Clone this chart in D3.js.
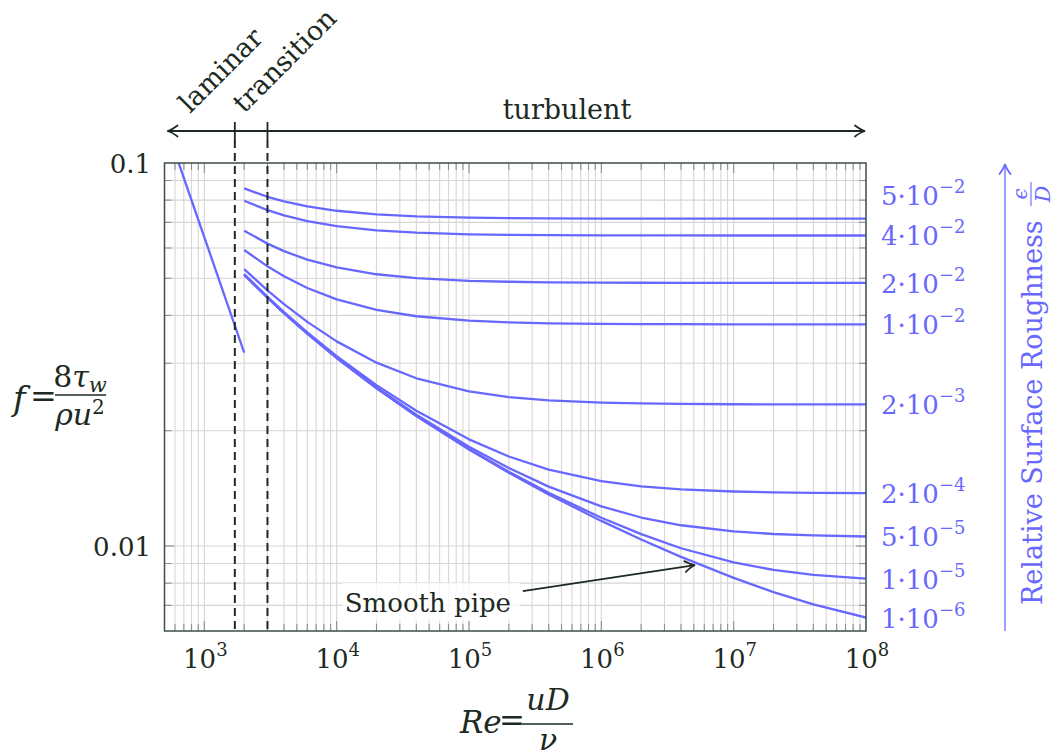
<!DOCTYPE html>
<html><head><meta charset="utf-8">
<script src="https://cdn.jsdelivr.net/npm/d3@7"></script>
<style>body{margin:0;background:#fff} text{font-family:"DejaVu Serif",serif}</style>
</head><body><svg id="c" width="1059" height="756"></svg>
<script>
// ---------- data ----------
const reTurb = [2e3, 3e3, 4e3, 6e3, 1e4, 2e4, 4e4, 1e5, 2e5, 4e5, 1e6, 2e6, 4e6, 1e7, 2e7, 4e7, 1e8];
const f_5e2 = [0.08584, 0.08162, 0.07938, 0.07704, 0.07504, 0.07344, 0.07256, 0.07200, 0.07179, 0.07168, 0.07161, 0.07158, 0.07156, 0.07155, 0.07155, 0.07155, 0.07155];
const f_4e2 = [0.07972, 0.07533, 0.07298, 0.07051, 0.06840, 0.06669, 0.06576, 0.06515, 0.06493, 0.06481, 0.06473, 0.06470, 0.06469, 0.06468, 0.06468, 0.06468, 0.06468];
const f_2e2 = [0.06658, 0.06159, 0.05886, 0.05593, 0.05336, 0.05123, 0.05004, 0.04926, 0.04897, 0.04882, 0.04872, 0.04868, 0.04866, 0.04865, 0.04864, 0.04864, 0.04864];
const f_1e2 = [0.05928, 0.05373, 0.05061, 0.04717, 0.04404, 0.04134, 0.03980, 0.03875, 0.03836, 0.03815, 0.03801, 0.03796, 0.03794, 0.03792, 0.03791, 0.03791, 0.03791];
const f_2e3 = [0.05283, 0.04651, 0.04280, 0.03847, 0.03422, 0.03011, 0.02741, 0.02533, 0.02449, 0.02400, 0.02368, 0.02356, 0.02350, 0.02345, 0.02344, 0.02343, 0.02342];
const f_2e4 = [0.05127, 0.04470, 0.04078, 0.03611, 0.03132, 0.02631, 0.02255, 0.01899, 0.01713, 0.01583, 0.01477, 0.01432, 0.01406, 0.01388, 0.01381, 0.01377, 0.01375];
const f_5e5 = [0.05114, 0.04455, 0.04061, 0.03590, 0.03106, 0.02594, 0.02203, 0.01816, 0.01598, 0.01429, 0.01269, 0.01187, 0.01133, 0.01092, 0.01075, 0.01066, 0.01059];
const f_1e5 = [0.05110, 0.04450, 0.04056, 0.03585, 0.03099, 0.02584, 0.02188, 0.01792, 0.01562, 0.01377, 0.01185, 0.01074, 0.009868, 0.009059, 0.008662, 0.008409, 0.008224];
const f_1e6 = [0.05109, 0.04450, 0.04055, 0.03583, 0.03097, 0.02582, 0.02185, 0.01787, 0.01554, 0.01364, 0.01163, 0.01040, 0.009369, 0.008258, 0.007583, 0.007038, 0.006506];
const roughMant = ["5", "4", "2", "1", "2", "2", "5", "1", "1"];
const roughExp  = ["−2", "−2", "−2", "−2", "−3", "−4", "−5", "−5", "−6"];
const laminarRe = [640, 2000];
const laminarF  = [0.1, 0.032];
const regimeBounds = [1700, 3000];
const regimeNames = ["laminar", "transition"];
const xTickExps = [3, 4, 5, 6, 7, 8];
const yTickValues = [0.1, 0.01];
const yTickLabels = ["0.1", "0.01"];
const smoothArrowFrom = [2.55e5, 0.00763];
const smoothArrowTo   = [5.1e6, 0.00892];

// ---------- setup ----------
const svg = d3.select("#c");
const BLUE = "#6868ff", DARK = "#1d2a22", GRID = "#d6d6d6", FRAME = "#3d4e44";
const L = 164.5, R = 866, T = 163, B = 631;
const FS = 26, SUP = 18;
const x = d3.scaleLog().domain([500, 1e8]).range([L, R]);
const y = d3.scaleLog().domain([0.006, 0.1]).range([B, T]);

const defs = svg.append("defs");
defs.append("clipPath").attr("id", "clip").append("rect").attr("x", L).attr("y", T).attr("width", R - L).attr("height", B - T);
function marker(id, color) {
  defs.append("marker").attr("id", id).attr("viewBox", "-12 -7 14 14").attr("refX", 0).attr("refY", 0)
    .attr("markerWidth", 14).attr("markerHeight", 14).attr("markerUnits", "userSpaceOnUse").attr("orient", "auto-start-reverse")
    .append("path").attr("d", "M-10,-5.5 Q-4,-1 0,0 Q-4,1 -10,5.5").attr("fill", "none").attr("stroke", color).attr("stroke-width", 1.8).attr("stroke-linecap", "round");
}
marker("arrD", DARK); marker("arrB", BLUE);

// grid
const xMinor = [], yMinor = [];
for (let n = 2; n <= 7; n++) for (let k = 1; k <= 9; k++) { const v = k * Math.pow(10, n); if (v > 500 && v < 1e8) xMinor.push(v); }
for (let n = -3; n <= -2; n++) for (let k = 1; k <= 9; k++) { const v = k * Math.pow(10, n); if (v > 0.006 && v < 0.1) yMinor.push(v); }
const g = svg.append("g");
g.selectAll(".gx").data(xMinor).enter().append("line").attr("x1", d => x(d)).attr("x2", d => x(d)).attr("y1", T).attr("y2", B).attr("stroke", GRID).attr("stroke-width", 1.1);
g.selectAll(".gy").data(yMinor).enter().append("line").attr("y1", d => y(d)).attr("y2", d => y(d)).attr("x1", L).attr("x2", R).attr("stroke", GRID).attr("stroke-width", 1.1);

// ticks inside
const isMajor = v => Math.abs(Math.log10(v) - Math.round(Math.log10(v))) < 1e-9;
const tk = svg.append("g").attr("stroke", "#8f8f8f").attr("stroke-width", 1.1);
xMinor.forEach(v => {
  const len = isMajor(v) ? 10 : 7;
  tk.append("line").attr("x1", x(v)).attr("x2", x(v)).attr("y1", B).attr("y2", B - len);
  tk.append("line").attr("x1", x(v)).attr("x2", x(v)).attr("y1", T).attr("y2", T + len);
});
yMinor.forEach(v => {
  const len = isMajor(v) ? 10 : 7;
  tk.append("line").attr("y1", y(v)).attr("y2", y(v)).attr("x1", L).attr("x2", L + len);
  tk.append("line").attr("y1", y(v)).attr("y2", y(v)).attr("x1", R).attr("x2", R - len);
});

// smooth pipe label background
svg.append("rect").attr("x", 342).attr("y", 583).attr("width", 178).attr("height", 38).attr("fill", "#fff").attr("opacity", 0.8);

// curves
const line = d3.line().x(d => x(d[0])).y(d => y(d[1]));
const turbSeries = [f_5e2, f_4e2, f_2e2, f_1e2, f_2e3, f_2e4, f_5e5, f_1e5, f_1e6];
const cg = svg.append("g").attr("clip-path", "url(#clip)");
cg.append("path").datum(laminarRe.map((r, i) => [r, laminarF[i]])).attr("d", line).attr("fill", "none").attr("stroke", BLUE).attr("stroke-width", 2.3);
turbSeries.forEach(fs => {
  cg.append("path").datum(reTurb.map((r, i) => [r, fs[i]])).attr("d", line).attr("fill", "none").attr("stroke", BLUE).attr("stroke-width", 2.3).attr("stroke-linejoin", "round");
});

// frame
svg.append("rect").attr("x", L).attr("y", T).attr("width", R - L).attr("height", B - T).attr("fill", "none").attr("stroke", FRAME).attr("stroke-width", 1.5);

// x tick labels
xTickExps.forEach(e => {
  const t = svg.append("text").attr("x", x(Math.pow(10, e)) + 1).attr("y", 668).attr("text-anchor", "middle").attr("font-size", FS).attr("fill", DARK);
  t.append("tspan").text("10");
  t.append("tspan").attr("dy", -12).attr("font-size", SUP).text(e);
});
// y tick labels
yTickValues.forEach((v, i) => {
  svg.append("text").attr("x", 151).attr("y", y(v) + 10).attr("text-anchor", "end").attr("font-size", FS).attr("fill", DARK).text(yTickLabels[i]);
});

// right labels (avoid overlap)
const ends = turbSeries.map(fs => y(fs[fs.length - 1]));
const labY = ends.slice();
for (let i = labY.length - 2; i >= 0; i--) if (labY[i + 1] - labY[i] < 38) labY[i] = labY[i + 1] - 40;
labY.forEach((ly, i) => {
  const t = svg.append("text").attr("x", 881).attr("y", ly + 10).attr("font-size", FS).attr("fill", BLUE);
  t.append("tspan").text(roughMant[i] + "·10");
  t.append("tspan").attr("dy", -12).attr("font-size", SUP).text(roughExp[i]);
});

// right axis arrow + label
svg.append("line").attr("x1", 1005).attr("x2", 1005).attr("y1", B).attr("y2", T + 1).attr("stroke", BLUE).attr("stroke-width", 1.3).attr("marker-end", "url(#arrB)");
svg.append("text").attr("transform", "translate(1042,605) rotate(-90)").attr("font-size", 27).attr("fill", BLUE).text("Relative Surface Roughness");
svg.append("text").attr("transform", "translate(1027,194) rotate(-90)").attr("text-anchor", "middle").attr("font-size", 20).attr("font-style", "italic").attr("font-family", "Liberation Serif").attr("fill", BLUE).text("ϵ");
svg.append("line").attr("x1", 1031).attr("x2", 1031).attr("y1", 182).attr("y2", 206).attr("stroke", BLUE).attr("stroke-width", 1.1);
svg.append("text").attr("transform", "translate(1050,194) rotate(-90)").attr("text-anchor", "middle").attr("font-size", 21).attr("font-style", "italic").attr("font-family", "Liberation Serif").attr("fill", BLUE).text("D");

// regime arrow
svg.append("line").attr("x1", L + 3).attr("x2", R - 1).attr("y1", 131).attr("y2", 131).attr("stroke", DARK).attr("stroke-width", 1.8)
  .attr("marker-start", "url(#arrD)").attr("marker-end", "url(#arrD)");
svg.append("text").attr("x", 567).attr("y", 119).attr("text-anchor", "middle").attr("font-size", 27).attr("fill", DARK).text("turbulent");
regimeBounds.forEach((rb, i) => {
  svg.append("line").attr("x1", x(rb)).attr("x2", x(rb)).attr("y1", 122).attr("y2", 140).attr("stroke", DARK).attr("stroke-width", 1.8);
  svg.append("line").attr("x1", x(rb)).attr("x2", x(rb)).attr("y1", 140).attr("y2", B).attr("stroke", DARK).attr("stroke-width", 2).attr("stroke-dasharray", "8,5");
});
svg.append("text").attr("transform", "translate(190,114) rotate(-45)").attr("font-size", 27).attr("fill", DARK).text(regimeNames[0]);
svg.append("text").attr("transform", "translate(244,114) rotate(-45)").attr("font-size", 27).attr("fill", DARK).text(regimeNames[1]);

// smooth pipe annotation
svg.append("text").attr("x", 511).attr("y", 612).attr("text-anchor", "end").attr("font-size", 26).attr("fill", DARK).text("Smooth pipe");
svg.append("line").attr("x1", x(smoothArrowFrom[0])).attr("y1", y(smoothArrowFrom[1])).attr("x2", x(smoothArrowTo[0])).attr("y2", y(smoothArrowTo[1]))
  .attr("stroke", DARK).attr("stroke-width", 1.8).attr("marker-end", "url(#arrD)");

// y axis label f = 8 tau_w / (rho u^2)
const MF = "Liberation Serif";
svg.append("text").attr("x", 13).attr("y", 410).attr("font-family", MF).attr("font-style", "italic").attr("font-size", 34).attr("fill", DARK).text("f");
svg.append("text").attr("x", 30).attr("y", 407).attr("font-family", MF).attr("font-size", 32).attr("fill", DARK).text("=");
svg.append("line").attr("x1", 55).attr("x2", 106).attr("y1", 395).attr("y2", 395).attr("stroke", DARK).attr("stroke-width", 1.4);
const num = svg.append("text").attr("x", 80).attr("y", 387).attr("text-anchor", "middle").attr("font-family", MF).attr("font-size", 30).attr("fill", DARK);
num.append("tspan").text("8");
num.append("tspan").attr("font-style", "italic").text("τ");
num.append("tspan").attr("font-style", "italic").attr("font-size", 21).attr("dy", 5).text("w");
const den = svg.append("text").attr("x", 80).attr("y", 425).attr("text-anchor", "middle").attr("font-family", MF).attr("font-size", 30).attr("fill", DARK);
den.append("tspan").attr("font-style", "italic").text("ρu");
den.append("tspan").attr("font-size", 20).attr("dy", -11).text("2");

// x axis label Re = uD / nu
svg.append("text").attr("x", 460).attr("y", 733).attr("font-family", MF).attr("font-style", "italic").attr("font-size", 31).attr("fill", DARK).text("Re");
svg.append("text").attr("x", 499).attr("y", 731).attr("font-family", MF).attr("font-size", 31).attr("fill", DARK).text("=");
svg.append("line").attr("x1", 522).attr("x2", 573).attr("y1", 724).attr("y2", 724).attr("stroke", DARK).attr("stroke-width", 1.4);
svg.append("text").attr("x", 548).attr("y", 710).attr("text-anchor", "middle").attr("font-family", MF).attr("font-style", "italic").attr("font-size", 30).attr("fill", DARK).text("uD");
svg.append("text").attr("x", 548).attr("y", 750).attr("text-anchor", "middle").attr("font-family", MF).attr("font-style", "italic").attr("font-size", 30).attr("fill", DARK).text("ν");
</script></body></html>
